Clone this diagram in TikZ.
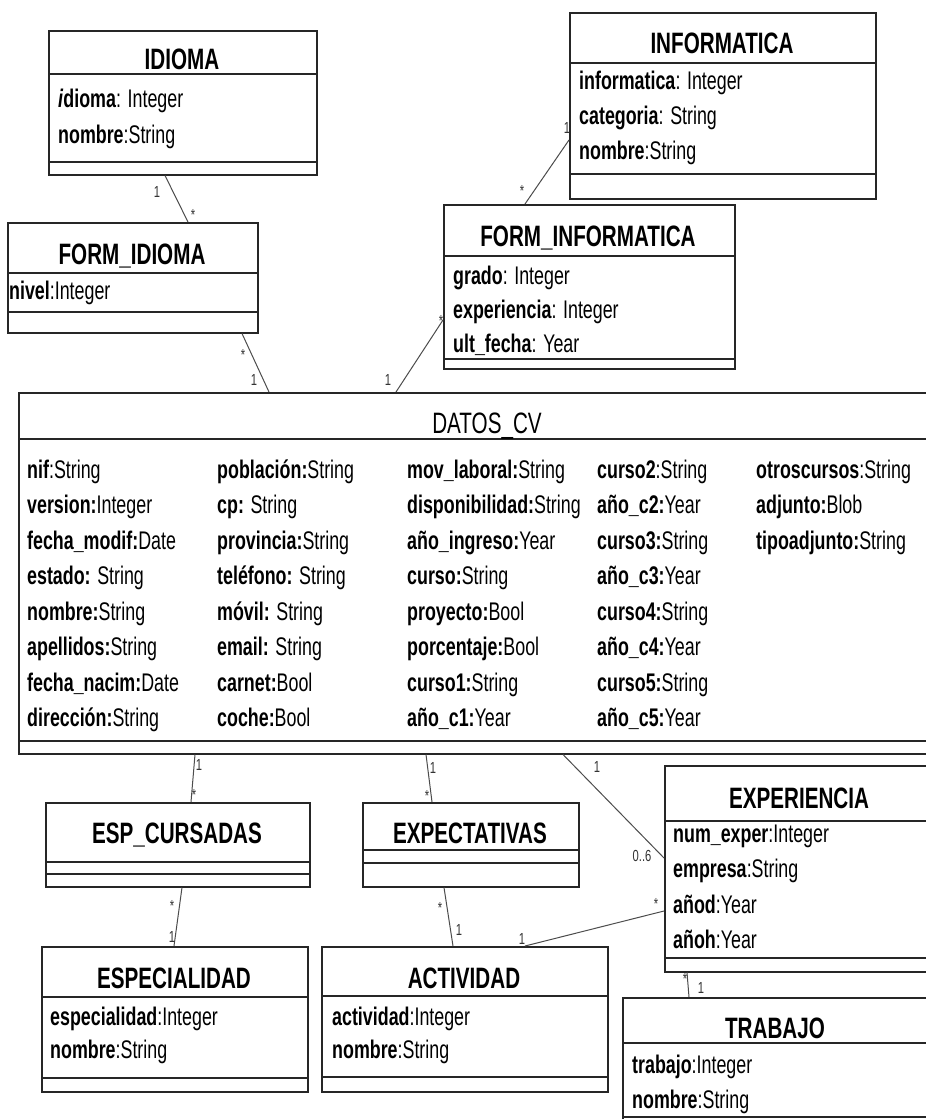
\documentclass[tikz,border=0pt]{standalone}
\usepackage{fontspec}
\setmainfont{Liberation Sans}[FakeStretch=0.70]
\usetikzlibrary{calc}

\tikzset{
  classframe/.style={draw=black!85, line width=1.5pt, inner sep=0pt, anchor=north west, fill=white},
  compartment/.style={draw=black!85, line width=1.5pt},
  classtitle/.style={anchor=base, inner sep=0pt, font=\fontsize{29.5}{34}\selectfont\bfseries},
  attrib/.style={anchor=base west, inner sep=0pt, font=\fontsize{25.5}{30}\selectfont},
  assoc/.style={draw=black!70, line width=1pt},
  mult/.style={inner sep=0pt, font=\fontsize{16}{19}\selectfont, text=black!80},
  star/.style={mult, yshift=-3pt},
}

% class box: name, x, y, width, height, y of header rule, y of operations rule
\newcommand\umlbox[7]{%
  \node[classframe, minimum width=#4pt, minimum height=#5pt] (#1) at (#2,#3) {};
  \draw[compartment] (#2,#6) -- ++(#4,0);
  \draw[compartment] (#2,#7) -- ++(#4,0);}

\begin{document}
\begin{tikzpicture}[x=1pt,y=-1pt]
\useasboundingbox[fill=white] (0,0) rectangle (926,1119);

% ---------- class boxes ----------
\umlbox{idioma}{48}{30}{268}{144}{74}{162}
\umlbox{formidioma}{7}{222}{250}{110}{273}{312}
\umlbox{informatica}{569}{12}{306}{186}{63}{174}
\umlbox{forminf}{443}{204}{291}{164}{256}{359}
\umlbox{datos}{18}{392}{960}{361}{439}{741}
\umlbox{espcursadas}{45}{802}{264}{84}{862}{874}
\umlbox{expectativas}{362}{802}{216}{84}{850}{863}
\umlbox{especialidad}{41}{946}{266}{145}{997}{1078}
\umlbox{actividad}{321}{946}{286}{145}{996}{1077}
\umlbox{experiencia}{664}{765}{300}{206}{821}{958}
\umlbox{trabajo}{622}{997}{320}{140}{1043}{1117}

% ---------- titles ----------
\node[classtitle] (t-idioma) at (182,69) {IDIOMA};
\node[classtitle] (t-formidioma) at (132,264) {FORM\_IDIOMA};
\node[classtitle] (t-informatica) at (722,53) {INFORMATICA};
\node[classtitle] (t-forminf) at (588,246) {FORM\_INFORMATICA};
\node[classtitle, font=\fontsize{29.5}{34}\selectfont] (t-datos) at (487,433) {DATOS\_CV};
\node[classtitle] (t-espcursadas) at (177,843) {ESP\_CURSADAS};
\node[classtitle] (t-expectativas) at (470,843) {EXPECTATIVAS};
\node[classtitle] (t-especialidad) at (174,988) {ESPECIALIDAD};
\node[classtitle] (t-actividad) at (464,988) {ACTIVIDAD};
\node[classtitle] (t-experiencia) at (799,808) {EXPERIENCIA};
\node[classtitle] (t-trabajo) at (775,1038) {TRABAJO};

% ---------- attributes ----------
\node[attrib] (a-idioma-1) at (58,107) {\textbf{\textit{i}dioma}: Integer};
\node[attrib] (a-idioma-2) at (58,143) {\textbf{nombre}:String};

\node[attrib] (a-formidioma-1) at (9,299) {\textbf{nivel}:Integer};

\node[attrib] (a-informatica-1) at (579,89) {\textbf{informatica}: Integer};
\node[attrib] (a-informatica-2) at (579,124) {\textbf{categoria}: String};
\node[attrib] (a-informatica-3) at (579,159) {\textbf{nombre}:String};

\node[attrib] (a-forminf-1) at (453,284) {\textbf{grado}: Integer};
\node[attrib] (a-forminf-2) at (453,318) {\textbf{experiencia}: Integer};
\node[attrib] (a-forminf-3) at (453,352) {\textbf{ult\_fecha}: Year};

\foreach \t [count=\i from 0] in {%
  \textbf{nif}:String, \textbf{version:}Integer, \textbf{fecha\_modif:}Date,
  \textbf{estado:} String, \textbf{nombre:}String, \textbf{apellidos:}String,
  \textbf{fecha\_nacim:}Date, \textbf{dirección:}String}
  \node[attrib] (a-datos-1-\i) at (27,478+35.5*\i) {\t};
\foreach \t [count=\i from 0] in {%
  \textbf{población:}String, \textbf{cp:} String, \textbf{provincia:}String,
  \textbf{teléfono:} String, \textbf{móvil:} String, \textbf{email:} String,
  \textbf{carnet:}Bool, \textbf{coche:}Bool}
  \node[attrib] (a-datos-2-\i) at (217,478+35.5*\i) {\t};
\foreach \t [count=\i from 0] in {%
  \textbf{mov\_laboral:}String, \textbf{disponibilidad:}String, \textbf{año\_ingreso:}Year,
  \textbf{curso:}String, \textbf{proyecto:}Bool, \textbf{porcentaje:}Bool,
  \textbf{curso1:}String, \textbf{año\_c1:}Year}
  \node[attrib] (a-datos-3-\i) at (407,478+35.5*\i) {\t};
\foreach \t [count=\i from 0] in {%
  \textbf{curso2}:String, \textbf{año\_c2:}Year, \textbf{curso3:}String,
  \textbf{año\_c3:}Year, \textbf{curso4:}String, \textbf{año\_c4:}Year,
  \textbf{curso5:}String, \textbf{año\_c5:}Year}
  \node[attrib] (a-datos-4-\i) at (597,478+35.5*\i) {\t};
\foreach \t [count=\i from 0] in {%
  \textbf{otroscursos}:String, \textbf{adjunto:}Blob, \textbf{tipoadjunto:}String}
  \node[attrib] (a-datos-5-\i) at (756,478+35.5*\i) {\t};

\node[attrib] (a-especialidad-1) at (50,1025) {\textbf{especialidad}:Integer};
\node[attrib] (a-especialidad-2) at (50,1058) {\textbf{nombre}:String};

\node[attrib] (a-actividad-1) at (332,1025) {\textbf{actividad}:Integer};
\node[attrib] (a-actividad-2) at (332,1058) {\textbf{nombre}:String};

\node[attrib] (a-experiencia-1) at (673,842) {\textbf{num\_exper}:Integer};
\node[attrib] (a-experiencia-2) at (673,877) {\textbf{empresa}:String};
\node[attrib] (a-experiencia-3) at (673,913) {\textbf{añod}:Year};
\node[attrib] (a-experiencia-4) at (673,948) {\textbf{añoh}:Year};

\node[attrib] (a-trabajo-1) at (632,1073) {\textbf{trabajo}:Integer};
\node[attrib] (a-trabajo-2) at (632,1108) {\textbf{nombre}:String};

% ---------- associations ----------
\draw[assoc] ($(idioma.south west)+(117,0)$) -- ($(formidioma.north west)+(181,0)$);
\draw[assoc] ($(formidioma.south west)+(235,0)$) -- ($(datos.north west)+(251,0)$);
\draw[assoc] ($(datos.north west)+(378,0)$) -- ($(forminf.north west)+(0,116)$);
\draw[assoc] ($(informatica.north west)+(0,128)$) -- ($(forminf.north west)+(82,0)$);
\draw[assoc] ($(datos.south west)+(177,0)$) -- ($(espcursadas.north west)+(146,0)$);
\draw[assoc] ($(datos.south west)+(408,0)$) -- ($(expectativas.north west)+(70,0)$);
\draw[assoc] ($(espcursadas.south west)+(137,0)$) -- ($(especialidad.north west)+(133,0)$);
\draw[assoc] ($(expectativas.south west)+(82,0)$) -- ($(actividad.north west)+(132,0)$);
\draw[assoc] ($(datos.south west)+(545,0)$) -- ($(experiencia.north west)+(0,93)$);
\draw[assoc] ($(actividad.north west)+(204,0)$) -- ($(experiencia.north west)+(0,146)$);
\draw[assoc] ($(experiencia.south west)+(23,0)$) -- ($(trabajo.north west)+(67,0)$);

% ---------- multiplicities ----------
\node[mult] (m1a) at (157,192) {1};
\node[star] (m1b) at (193,212) {*};
\node[star] (m2a) at (243,352) {*};
\node[mult] (m2b) at (254,380) {1};
\node[mult] (m3a) at (388,380) {1};
\node[star] (m3b) at (441,318) {*};
\node[mult] (m4a) at (567,128) {1};
\node[star] (m4b) at (522,188) {*};
\node[mult] (m5a) at (199,765) {1};
\node[star] (m5b) at (194,792) {*};
\node[mult] (m6a) at (433,768) {1};
\node[star] (m6b) at (427,793) {*};
\node[star] (m7a) at (172,903) {*};
\node[mult] (m7b) at (172,937) {1};
\node[star] (m8a) at (440,905) {*};
\node[mult] (m8b) at (459,930) {1};
\node[mult] (m9a) at (597,767) {1};
\node[mult] (m9b) at (642,856) {0..6};
\node[mult] (m10a) at (522,939) {1};
\node[star] (m10b) at (656,901) {*};
\node[star] (m11a) at (685,976) {*};
\node[mult] (m11b) at (701,988) {1};
\end{tikzpicture}
\end{document}
